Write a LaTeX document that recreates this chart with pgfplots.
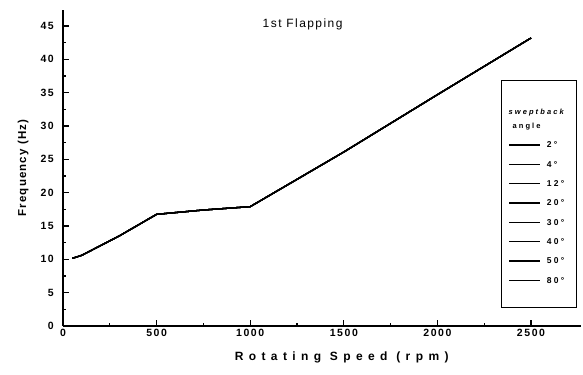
\documentclass[border=0pt]{standalone}
\usepackage{fontspec}
\setmainfont{Liberation Sans}
\newfontfamily\tickfont[LetterSpace=15]{Liberation Sans}
\newfontfamily\labfont[LetterSpace=10]{Liberation Sans}
\newfontfamily\xlabfont[LetterSpace=45]{Liberation Sans}
\newfontfamily\titfont[LetterSpace=12]{Liberation Sans}
\newfontfamily\legfont[LetterSpace=28]{Liberation Sans}
\usepackage{pgfplots}
\usepackage{pgfplotstable}
\pgfplotsset{compat=1.18}
\pgfplotsset{legline/.style={legend image code/.code={\draw[##1] (0bp,0bp) -- (31bp,0bp);}}}

\pgfplotstableread{
rpm freq
50 10.15
100 10.6
300 13.5
500 16.75
750 17.4
1000 17.9
1500 26.1
2000 34.7
2500 43.2
}\flapdata

\tikzset{legtxt/.style={text height=12.5bp, text depth=6.8bp, text width=23bp, inner xsep=0pt, inner ysep=0pt, align=left, font=\legfont\bfseries\fontsize{8.5bp}{10bp}\selectfont}}

\begin{document}
\begin{tikzpicture}
\begin{axis}[
  at={(0,0)}, anchor=south west,
  scale only axis, width=518bp, height=316bp,
  xmin=0, xmax=2767, ymin=0, ymax=47.4,
  axis lines=left,
  axis line style={-, line width=1.6bp, black},
  xtick={0,500,...,2500}, ytick={0,5,...,45},
  minor x tick num=1, minor y tick num=1,
  tick align=inside,
  major tick length=6bp, minor tick length=3.5bp,
  tick style={line width=1.2bp, black},
  /pgf/number format/assume math mode=true,
  /pgf/number format/1000 sep={},
  xticklabel style={font=\tickfont\bfseries\fontsize{10.5bp}{12bp}\selectfont, anchor=center, yshift=-7bp},
  yticklabel style={font=\tickfont\bfseries\fontsize{10.5bp}{12bp}\selectfont, anchor=east, inner sep=0pt, xshift=-9bp},
  xlabel={Rotating Speed (rpm)},
  ylabel={Frequency (Hz)},
  every axis x label/.style={at={(axis description cs:0.538,-0.101)}, anchor=center, font=\xlabfont\bfseries\fontsize{12bp}{14bp}\selectfont},
  every axis y label/.style={at={(axis description cs:-0.077,0.5)}, rotate=90, anchor=center, font=\labfont\bfseries\fontsize{11.5bp}{13bp}\selectfont},
  clip=false,
  legend cell align=left,
  legend style={at={(axis description cs:0.8456,0.7785)}, anchor=north west,
    inner xsep=7bp, inner ysep=5bp, column sep=6bp, draw=black, line width=0.9bp, fill=white},
]
\addlegendimage{legend image code/.code={%
  \node[overlay,anchor=base west,inner sep=0pt,text height=,text depth=,text width=,font=\legfont\bfseries\itshape\fontsize{7.5bp}{9bp}\selectfont] at (-1bp,-4bp) {sweptback};
  \node[overlay,anchor=base west,inner sep=0pt,text height=,text depth=,text width=,font=\legfont\bfseries\fontsize{7.5bp}{9bp}\selectfont] at (3bp,-18bp) {angle};}}
\addlegendentry[text height=50bp, text depth=0bp, inner sep=0pt, text width=23bp]{}
\addplot[black, line width=1.3bp, legline] table[x=rpm,y=freq] {\flapdata};
\addlegendentry[legtxt]{2°}
\addplot[black, line width=1.3bp, legline] table[x=rpm,y=freq] {\flapdata};
\addlegendentry[legtxt]{4°}
\addplot[black, line width=1.3bp, legline] table[x=rpm,y=freq] {\flapdata};
\addlegendentry[legtxt]{12°}
\addplot[black, line width=1.3bp, legline] table[x=rpm,y=freq] {\flapdata};
\addlegendentry[legtxt]{20°}
\addplot[black, line width=1.3bp, legline] table[x=rpm,y=freq] {\flapdata};
\addlegendentry[legtxt]{30°}
\addplot[black, line width=1.3bp, legline] table[x=rpm,y=freq] {\flapdata};
\addlegendentry[legtxt]{40°}
\addplot[black, line width=1.3bp, legline] table[x=rpm,y=freq] {\flapdata};
\addlegendentry[legtxt]{50°}
\addplot[black, line width=1.3bp, legline] table[x=rpm,y=freq] {\flapdata};
\addlegendentry[legtxt]{80°}
\addlegendimage{empty legend}
\addlegendentry[text height=12.6bp, text depth=0bp, inner sep=0pt, text width=23bp]{}
\node[font=\titfont\fontsize{12bp}{14bp}\selectfont] at (axis cs:1280,45.2) {1st Flapping};
\end{axis}
\pgfresetboundingbox
\useasboundingbox (-63bp,-49bp) rectangle (520bp,326bp);
\end{tikzpicture}
\end{document}
